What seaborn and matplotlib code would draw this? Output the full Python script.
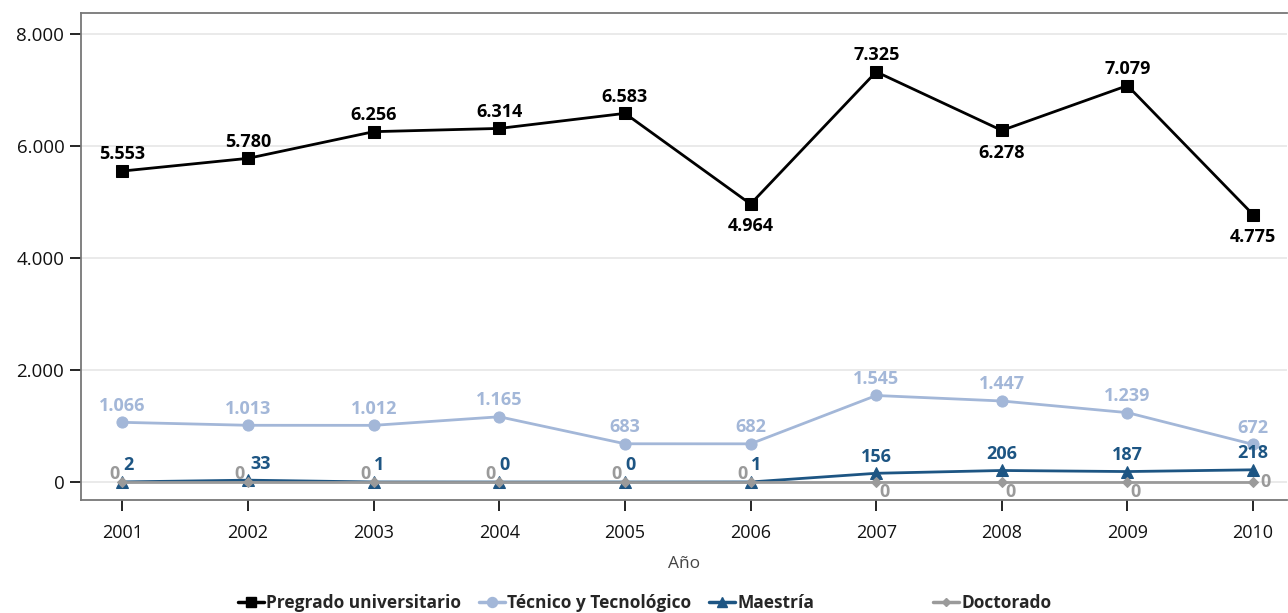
import pandas as pd
import matplotlib
matplotlib.use("Agg")
import matplotlib.pyplot as plt
import seaborn as sns
from matplotlib.lines import Line2D

years = [2001, 2002, 2003, 2004, 2005, 2006, 2007, 2008, 2009, 2010]
pregrado = [5553, 5780, 6256, 6314, 6583, 4964, 7325, 6278, 7079, 4775]
tecnico = [1066, 1013, 1012, 1165, 683, 682, 1545, 1447, 1239, 672]
maestria = [2, 33, 1, 0, 0, 1, 156, 206, 187, 218]
doctorado = [0, 0, 0, 0, 0, 0, 0, 0, 0, 0]

series_names = ["Pregrado universitario", "Técnico y Tecnológico", "Maestría", "Doctorado"]
colors = ["#000000", "#a3b7d8", "#1d5583", "#9a9a9a"]
markers = ["s", "o", "^", "D"]
msizes = [8, 8, 8, 5]

df = pd.DataFrame({
    "Año": years * 4,
    "valor": pregrado + tecnico + maestria + doctorado,
    "serie": sum([[n] * len(years) for n in series_names], []),
})

sns.set_style("white")
plt.rcParams["font.family"] = ["Open Sans", "DejaVu Sans"]

fig = plt.figure(figsize=(12.88, 6.13), dpi=100)
ax = fig.add_axes([81 / 1288, 1 - 500 / 613, 1206 / 1288, 487 / 613])

# draw order: maestria, doctorado over it, then tecnico and pregrado
order = [2, 3, 1, 0]
for i in order:
    sub = df[df["serie"] == series_names[i]]
    sns.lineplot(data=sub, x="Año", y="valor", color=colors[i], marker=markers[i],
                 markersize=msizes[i], markeredgecolor=colors[i], linewidth=2, ax=ax,
                 legend=False)


def fmt(v):
    return f"{v:,}".replace(",", ".")


lab = dict(ha="center", va="center", fontsize=13, fontweight="bold",
           textcoords="offset points")

below_preg = {2006, 2008, 2010}
for x, v in zip(years, pregrado):
    dy = -16 if x in below_preg else 12
    ax.annotate(fmt(v), (x, v), xytext=(0, dy), color="#000000", **lab)
for x, v in zip(years, tecnico):
    ax.annotate(fmt(v), (x, v), xytext=(0, 12), color=colors[1], **lab)
for x, v in zip(years, maestria):
    n = len(str(v))
    dx = {1: 4, 2: 9}.get(n, 0)
    ax.annotate(fmt(v), (x, v), xytext=(dx, 12), color=colors[2], **lab)
for x, v in zip(years, doctorado):
    if x <= 2006:
        off = (-6, 6)
    elif x < 2010:
        off = (6, -7)
    else:
        off = (9, 0)
    ax.annotate(fmt(v), (x, v), xytext=off, color=colors[3], **lab)

ax.set_xlim(2000.67, 2010.27)
ax.set_ylim(-321, 8375)
ax.set_xticks(years)
ax.set_xticklabels([str(y) for y in years], fontsize=13, color="#111111")
ax.set_yticks([0, 2000, 4000, 6000, 8000])
ax.set_yticklabels([fmt(t) for t in [0, 2000, 4000, 6000, 8000]], fontsize=13.5,
                   color="#111111")
ax.tick_params(axis="both", which="both", length=8, width=1.2, color="#000000",
               direction="out", pad=4, bottom=True, left=True)
ax.tick_params(axis="x", pad=9)
ax.grid(axis="y", color="#e6e6e6", linewidth=1.2)
ax.grid(axis="x", visible=False)
ax.set_axisbelow(True)
for side in ["left", "top", "bottom"]:
    ax.spines[side].set_color("#777777")
    ax.spines[side].set_linewidth(1.3)
ax.spines["right"].set_visible(False)
ax.set_xlabel("Año", fontsize=12.5, color="#444444", labelpad=10)
ax.set_ylabel("")

handles = [Line2D([0], [0], color=c, marker=m, markersize=s * 0.9, linewidth=2.5)
           for c, m, s in zip(colors, markers, msizes)]
leg_kw = dict(frameon=False, handlelength=1.5, handletextpad=0.15, columnspacing=1.0,
              prop={"weight": "bold", "size": 12.5}, loc="center left")
fig.legend(handles[:3], series_names[:3], ncol=3,
           bbox_to_anchor=(222 / 1288, 1 - 603 / 613), **leg_kw)
fig.legend(handles[3:], series_names[3:], ncol=1,
           bbox_to_anchor=(917 / 1288, 1 - 603 / 613), **leg_kw)

fig.savefig("out.png", dpi=100)
